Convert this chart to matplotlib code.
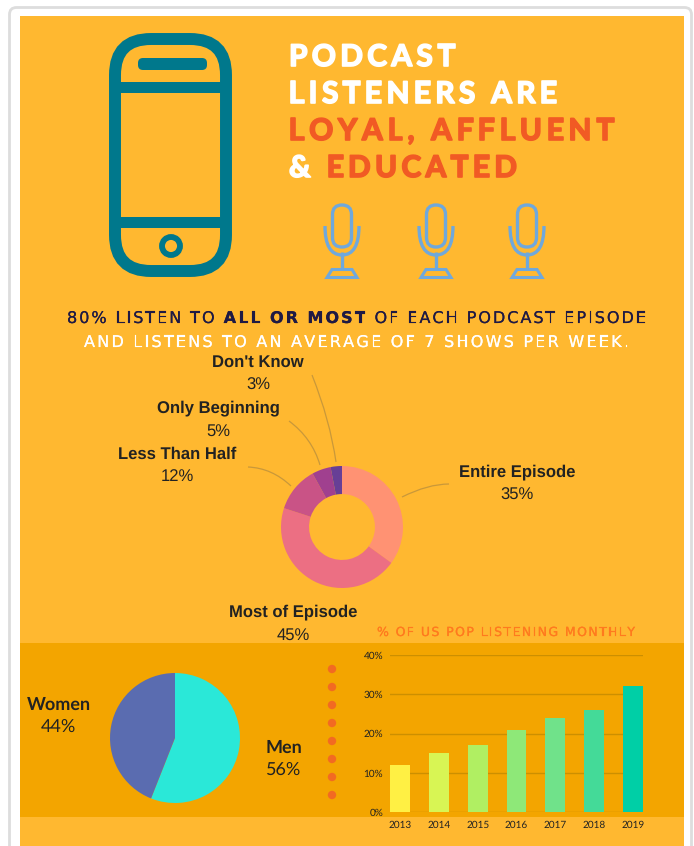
import matplotlib
matplotlib.use('Agg')
import matplotlib.pyplot as plt
import matplotlib.patheffects as pe
from matplotlib.patches import FancyBboxPatch, Rectangle, Circle, Polygon, PathPatch
from matplotlib.path import Path

plt.rcParams['text.hinting'] = 'no_hinting'

# Listening habits
listen_labels = ['Entire Episode', 'Most of Episode', 'Less Than Half', 'Only Beginning', "Don't Know"]
listen_values = [35, 45, 12, 5, 3]
listen_colors = ['#FF9273', '#EC6F83', '#C95386', '#A0408F', '#673F96']

# Gender split
gender_labels = ['Men', 'Women']
gender_values = [56, 44]
gender_colors = ['#2AE8D8', '#5A6CB0']

# % of US population listening monthly
years = ['2013', '2014', '2015', '2016', '2017', '2018', '2019']
monthly = [12, 15, 17, 21, 24, 26, 32]
bar_colors = ['#FFF044', '#D8F554', '#B0EF62', '#8EE878', '#70E28A', '#44DA98', '#00CFA6']
y_ticks = [0, 10, 20, 30, 40]

W, H = 694, 846
BG = '#FFB830'
BAND = '#F3A500'
DARK = '#222222'
NAVY = '#1F1A44'
RED = '#F15A24'
TEAL = '#00788C'
MIC = '#6FA8DC'
LEADER = '#C9983A'

fig = plt.figure(figsize=(W / 100, H / 100), dpi=100, facecolor='white')
bg = fig.add_axes([0, 0, 1, 1])
bg.set_xlim(0, W)
bg.set_ylim(H, 0)
bg.axis('off')
renderer = fig.canvas.get_renderer()


def inset(x0, y0, x1, y1):
    # axes placed by pixel box, y counted from the top
    ax = fig.add_axes([x0 / W, 1 - y1 / H, (x1 - x0) / W, (y1 - y0) / H])
    ax.patch.set_alpha(0)
    return ax


def advance(ch, **kw):
    probe = bg.text(0, 0, ch + 'H', **kw)
    full = probe.get_window_extent(renderer).width
    probe.set_text('H')
    full -= probe.get_window_extent(renderer).width
    probe.remove()
    return full


def spaced(x0, x1, y, parts, size, family='Lato', thicken=0):
    # letter-spaced line made of (text, colour, weight) parts, stretched to x0..x1
    chars = [(c, col, wt) for txt, col, wt in parts for c in txt]
    widths = [advance(c, fontsize=size, family=family, fontweight=wt) for c, col, wt in chars]
    gap = (x1 - x0 - sum(widths)) / (len(chars) - 1)
    pen = x0
    for (c, col, wt), w in zip(chars, widths):
        t = bg.text(pen, y, c, fontsize=size, family=family, fontweight=wt, color=col, va='baseline', ha='left')
        if thicken:
            t.set_path_effects([pe.withStroke(linewidth=thicken, foreground=col)])
        pen += w + gap


def leader(pts):
    codes = [Path.MOVETO, Path.CURVE3, Path.CURVE3]
    bg.add_patch(PathPatch(Path(pts, codes), fc='none', ec=LEADER, lw=0.9))


# page card and coloured panels
bg.add_patch(FancyBboxPatch((9.5, 7.5), 682, 900, boxstyle='round,pad=0,rounding_size=7',
                            fc='white', ec='#DDDDDD', lw=2))
bg.add_patch(Rectangle((20, 16), 664, H - 16, fc=BG, ec='none'))
bg.add_patch(Rectangle((20, 643), 664, 174, fc=BAND, ec='none'))

# phone icon
bg.add_patch(FancyBboxPatch((115, 39), 111, 232, boxstyle='round,pad=0,rounding_size=36',
                            fc='none', ec=TEAL, lw=8.6))
bg.add_patch(Rectangle((115, 82), 111, 11, fc=TEAL, ec='none'))
bg.add_patch(Rectangle((115, 217), 111, 11, fc=TEAL, ec='none'))
bg.add_patch(FancyBboxPatch((138, 58), 69, 12, boxstyle='round,pad=0,rounding_size=5', fc=TEAL, ec='none'))
bg.add_patch(Circle((171, 246), 9, fc='none', ec=TEAL, lw=4.2))

# microphones
for cx in [342, 436, 527]:
    bg.add_patch(FancyBboxPatch((cx - 9.5, 205), 19, 42, boxstyle='round,pad=0,rounding_size=9.5',
                                fc='none', ec=MIC, lw=2.4))
    cup = Path([(cx - 17, 226), (cx - 17, 255), (cx, 255), (cx + 17, 255), (cx + 17, 226)],
               [Path.MOVETO, Path.CURVE3, Path.CURVE3, Path.CURVE3, Path.CURVE3])
    bg.add_patch(PathPatch(cup, fc='none', ec=MIC, lw=2.4))
    bg.plot([cx, cx], [252, 270], color=MIC, lw=2.4, solid_capstyle='butt')
    bg.add_patch(Polygon([(cx - 10, 269.5), (cx + 10, 269.5), (cx + 15, 277.5), (cx - 15, 277.5)],
                         closed=True, fc='none', ec=MIC, lw=2.2))

# headline
spaced(289, 455, 66, [('PODCAST', 'white', 'bold')], 21.5, thicken=1.2)
spaced(289, 557, 103, [('LISTENERS ARE', 'white', 'bold')], 21.5, thicken=1.2)
spaced(289, 614, 140, [('LOYAL, AFFLUENT', RED, 'bold')], 21.5, thicken=1.2)
spaced(289, 517, 177, [('& ', 'white', 'bold'), ('EDUCATED', RED, 'bold')], 21.5, thicken=1.2)

spaced(67, 646, 323, [('80% LISTEN TO ', NAVY, 'normal'), ('ALL OR MOST', NAVY, 'bold'),
                      (' OF EACH PODCAST EPISODE', NAVY, 'normal')], 11.6, family='DejaVu Sans', thicken=0.1)
spaced(84, 629, 347, [('AND LISTENS TO AN AVERAGE OF 7 SHOWS PER WEEK.', 'white', 'normal')],
       11.6, family='DejaVu Sans', thicken=0.1)

# listening donut
donut = inset(281, 466, 403, 588)
donut.pie(listen_values, colors=listen_colors, startangle=90, counterclock=False,
          wedgeprops={'width': 0.46, 'linewidth': 0, 'clip_on': False})
donut.set_xlim(-1, 1)
donut.set_ylim(-1, 1)

# label centre and baselines for the donut
listen_pos = [(517.5, 472.5), (293, 612.5), (177, 454.5), (218, 408.5), (258, 362.5)]
for name, val, (x, y) in zip(listen_labels, listen_values, listen_pos):
    bg.text(x, y, name, fontsize=12, family='Liberation Sans', fontweight='bold', color=DARK,
            ha='center', va='center')
    bg.text(x, y + 22.5, f'{val}%', fontsize=12, family='Liberation Sans', color=DARK,
            ha='center', va='center')

leader([(312, 375), (330, 420), (336, 462)])
leader([(289, 421), (312, 438), (320, 465)])
leader([(248, 467), (272, 468), (291, 486)])
leader([(402, 497), (428, 484), (449, 484)])

# gender pie
pie = inset(110, 673, 240, 803)
pie.pie(gender_values, colors=gender_colors, startangle=90, counterclock=False,
        wedgeprops={'linewidth': 0, 'clip_on': False})
pie.set_xlim(-1, 1)
pie.set_ylim(-1, 1)

for name, val, (x, y) in zip(gender_labels, gender_values, [(283.5, 748), (58.5, 705)]):
    bg.text(x, y, name, fontsize=13, family='Lato', fontweight='bold', color=DARK, ha='center', va='center')
    bg.text(x, y + 21.5, f'{val}%', fontsize=13, family='Lato', color=DARK, ha='center', va='center')

# dotted divider
for k in range(8):
    bg.add_patch(Circle((332, 669 + 18 * k), 4.2, fc='#F26A22', ec='none'))

# yearly bars
spaced(377, 635, 636, [('% OF US POP LISTENING MONTHLY', '#FF7A1E', 'normal')], 9, family='DejaVu Sans', thicken=0.15)

bars = inset(390, 655, 643, 812)
bars.bar(years, monthly, width=0.515, color=bar_colors, zorder=3)
bars.set_xlim(-0.2575, 6.2575)
bars.set_ylim(0, 40)
bars.set_yticks(y_ticks)
bars.set_yticklabels([f'{v}%' for v in y_ticks], family='Lato')
bars.tick_params(axis='both', length=0, labelsize=7.2, labelcolor=DARK)
bars.tick_params(axis='y', pad=5)
bars.tick_params(axis='x', pad=6)
for lab in bars.get_xticklabels():
    lab.set_family('Lato')
bars.grid(axis='y', color='#CC8F00', lw=1, zorder=0)
for s in bars.spines.values():
    s.set_visible(False)

fig.savefig('out.png', dpi=100, facecolor='white')
